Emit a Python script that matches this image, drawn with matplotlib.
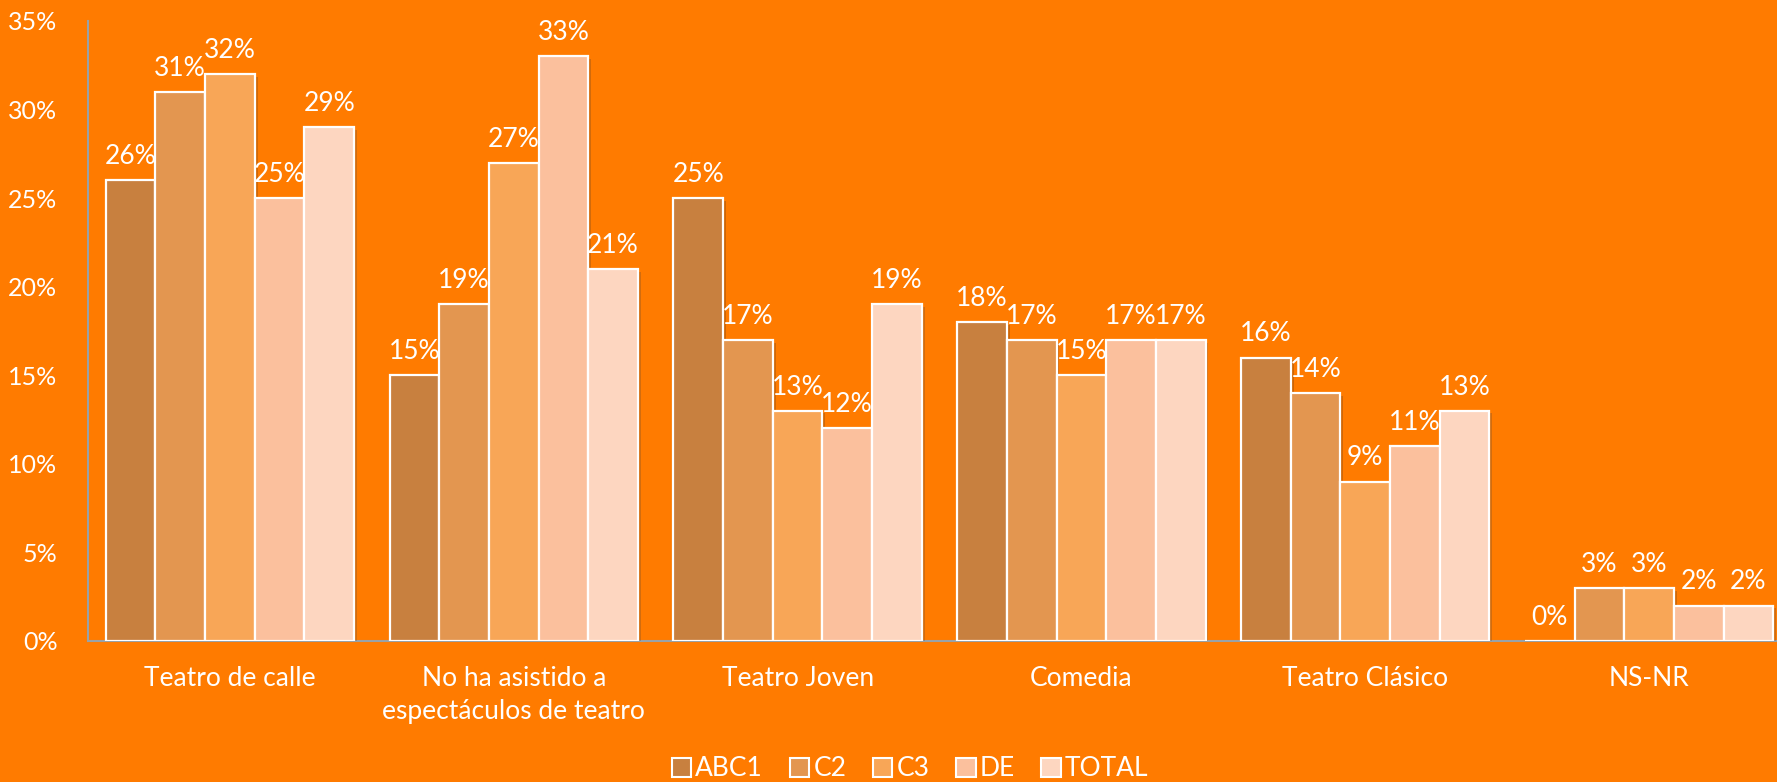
import numpy as np
import matplotlib
matplotlib.use("Agg")
from matplotlib import pyplot as plt
from matplotlib import patheffects as pe
from matplotlib.patches import Patch

categories = ["Teatro de calle", "No ha asistido a\nespectáculos de teatro", "Teatro Joven",
              "Comedia", "Teatro Clásico", "NS-NR"]
series = ["ABC1", "C2", "C3", "DE", "TOTAL"]
abc1 = [26, 15, 25, 18, 16, 0]
c2 = [31, 19, 17, 17, 14, 3]
c3 = [32, 27, 13, 15, 9, 3]
de = [25, 33, 12, 17, 11, 2]
total = [29, 21, 19, 17, 13, 2]
yticks = [0, 5, 10, 15, 20, 25, 30, 35]

colors = ["#C8803F", "#E39650", "#F8A657", "#FBC09D", "#FDD6C0"]
bg = "#FF7B00"

plt.rcParams['font.family'] = ['Lato', 'DejaVu Sans']

fig = plt.figure(figsize=(17.77, 7.82), dpi=100, facecolor=bg)
ax = fig.add_axes([88 / 1777, 141 / 782, 1703 / 1777, 620 / 782])
ax.set_facecolor(bg)

x = np.arange(len(categories))
width = 0.175
data = [abc1, c2, c3, de, total]
for i, vals in enumerate(data):
    pos = x + (i - 2) * width
    bars = ax.bar(pos, vals, width, color=colors[i], edgecolor="white", linewidth=1.6,
                  label=series[i], zorder=3)
    for b in bars:
        if b.get_height() > 0:
            b.set_path_effects([pe.SimplePatchShadow(offset=(2, -2), alpha=0.25), pe.Normal()])
    for p, v in zip(pos, vals):
        ax.annotate(f"{v}%", (p, v), xytext=(0, 8), textcoords="offset points",
                    ha="center", va="bottom", color="white", fontsize=19)

ax.set_xlim(-0.5, len(categories) - 0.5)
ax.set_ylim(0, 35)
ax.set_yticks(yticks)
ax.set_yticklabels([f"{t}%" for t in yticks])
ax.set_xticks(x)
ax.set_xticklabels(categories, linespacing=1.4)
ax.tick_params(axis="y", length=0, pad=22, labelcolor="white", labelsize=18)
ax.tick_params(axis="x", length=0, pad=18, labelcolor="white", labelsize=19)
for s in ["top", "right"]:
    ax.spines[s].set_visible(False)
for s in ["left", "bottom"]:
    ax.spines[s].set_color("#98A2A8")
    ax.spines[s].set_linewidth(1.5)

handles = [Patch(facecolor=c, edgecolor="white", linewidth=1.5) for c in colors]
leg = fig.legend(handles, series, loc="center", bbox_to_anchor=(910 / 1777, 13 / 782), ncol=5,
                 frameon=False, fontsize=19, handlelength=0.75, handleheight=0.75,
                 handletextpad=0.15, columnspacing=1.0, labelcolor="white")

fig.savefig("out.png", dpi=100, facecolor=bg)
